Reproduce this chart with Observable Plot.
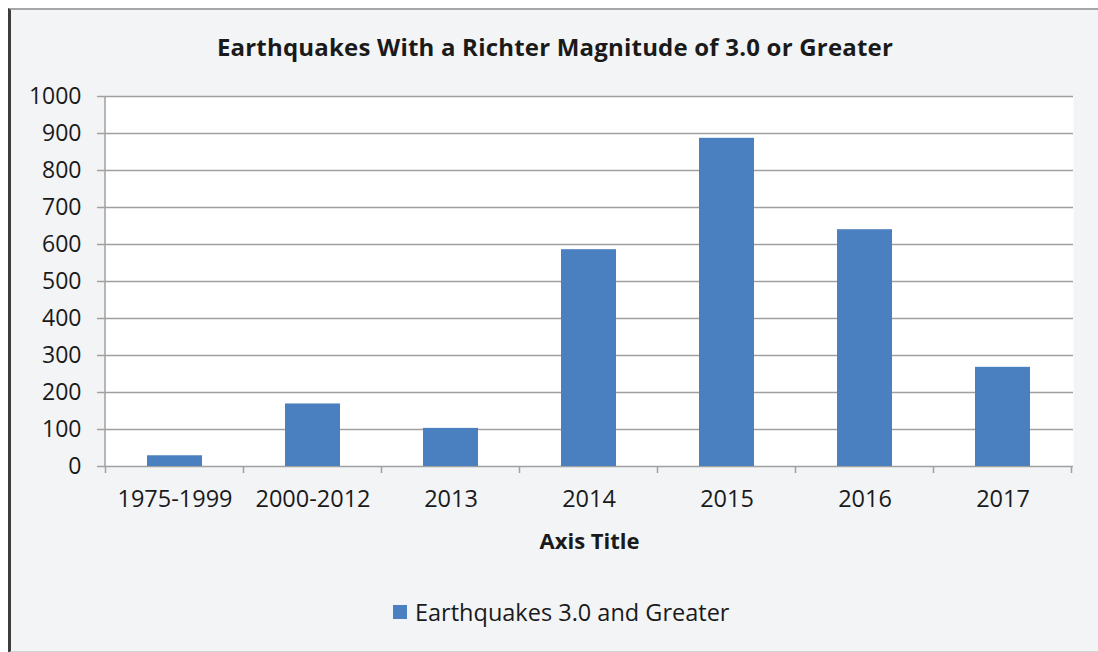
<!DOCTYPE html>
<html>
<head>
<meta charset="utf-8">
<script src="https://cdn.jsdelivr.net/npm/d3@7"></script>
<script src="https://cdn.jsdelivr.net/npm/@observablehq/plot@0.6"></script>
<style>
  html, body { margin: 0; padding: 0; background: #ffffff; width: 1098px; height: 652px; overflow: hidden; }
  #frame { position: absolute; left: 8px; top: 8px; width: 1087px; height: 641px; background: #f3f4f6;
           border-top: 2px solid #a6a6a6; border-left: 3px solid #3c3c3c; border-bottom: 2px solid #d2d2d2; }
  #title { position: absolute; left: 8px; width: 1094px; top: 31px; height: 32px; line-height: 32px; text-align: center;
           font-family: "Open Sans", sans-serif; font-weight: bold; font-size: 24px; color: #1a1a1a; letter-spacing: 0.2px; }
  #chart { position: absolute; left: 0; top: 70px; }
  #legend { position: absolute; left: 393px; top: 597px; height: 30px; display: flex; align-items: center;
            font-family: "Open Sans", sans-serif; font-size: 23.5px; color: #1a1a1a; }
  #legend .sw { width: 14px; height: 14px; background: #4a80c0; margin-right: 8px; }
</style>
</head>
<body>
<div id="frame"></div>
<div id="title">Earthquakes With a Richter Magnitude of 3.0 or Greater</div>
<div id="chart"></div>
<div id="legend"><div class="sw"></div><span>Earthquakes 3.0 and Greater</span></div>
<script>
const categories = ["1975-1999", "2000-2012", "2013", "2014", "2015", "2016", "2017"];
const counts = [29, 169, 103, 586, 887, 640, 268];
const yTicks = [0, 100, 200, 300, 400, 500, 600, 700, 800, 900, 1000];
const seriesName = "Earthquakes 3.0 and Greater";
const xAxisTitle = "Axis Title";

const data = categories.map((c, i) => ({period: c, count: counts[i]}));

const gridColor = "#a0a0a0";

function axisLines(index, scales, values, dims) {
  const x = scales.x, y = scales.y;
  const g = d3.create("svg:g").attr("stroke", gridColor).attr("stroke-width", 1.5);
  const left = dims.marginLeft;
  const y0 = y(0), y1 = y(1000);
  g.append("line").attr("x1", left).attr("x2", left).attr("y1", y1).attr("y2", y0 + 0.5);
  const bw = x.bandwidth ? x.bandwidth() : 0;
  const step = x.step ? x.step() : (dims.width - dims.marginLeft - dims.marginRight) / categories.length;
  const bounds = categories.map(c => x(c) + bw / 2 - step / 2)
    .concat([x(categories[categories.length - 1]) + bw / 2 + step / 2]);
  g.selectAll(null).data(bounds).join("line")
    .attr("x1", d => d).attr("x2", d => d).attr("y1", y0).attr("y2", y0 + 7);
  return g.node();
}

const chart = Plot.plot({
  width: 1098,
  height: 490,
  marginLeft: 105,
  marginRight: 25,
  marginTop: 26,
  marginBottom: 94,
  style: {background: "transparent", fontFamily: "'Open Sans', sans-serif", fontSize: "23px", color: "#1a1a1a"},
  x: {domain: categories, paddingInner: 0.6, paddingOuter: 0.3, label: null},
  y: {domain: [0, 1000], ticks: yTicks, label: null},
  marks: [
    Plot.frame({fill: "white", stroke: "none"}),
    Plot.gridY(yTicks, {stroke: gridColor, strokeOpacity: 1, strokeWidth: 1.5}),
    Plot.barY(data, {x: "period", y: "count", fill: "#4a80c0", title: d => `${seriesName}: ${d.count}`}),
    Plot.axisY(yTicks, {tickSize: 8, tickPadding: 16, stroke: gridColor, strokeOpacity: 1, strokeWidth: 1.5, tickFormat: d => String(d), label: null}),
    Plot.axisX({tickSize: 0, tickPadding: 24, fontSize: 23.5, label: null}),
    Plot.text([xAxisTitle], {frameAnchor: "bottom", lineAnchor: "middle", dy: 75, fontWeight: "bold", fontSize: 22}),
    axisLines
  ]
});
document.getElementById("chart").appendChild(chart);
</script>
</body>
</html>
